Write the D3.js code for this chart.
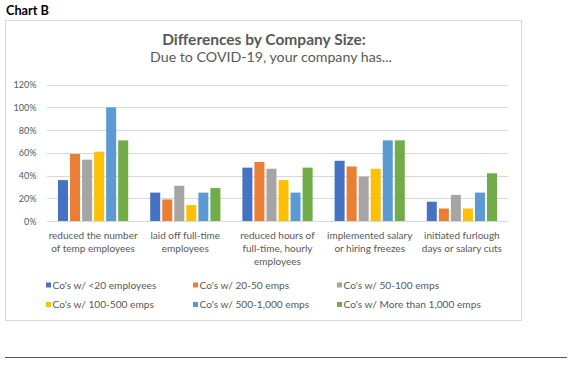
<!DOCTYPE html>
<html><head><meta charset="utf-8">
<script src="https://cdn.jsdelivr.net/npm/d3@7"></script>
<style>body{margin:0;background:#fff}svg{display:block}text{font-family:Lato,"Open Sans",sans-serif}</style>
</head><body>
<svg id="c" width="575" height="366"></svg>
<script>
const categories = [
  ["reduced the number","of temp employees"],
  ["laid off full-time","employees"],
  ["reduced hours of","full-time, hourly","employees"],
  ["implemented salary","or hiring freezes"],
  ["initiated furlough","days or salary cuts"]
];
const seriesNames = ["Co's w/ <20 employees","Co's w/ 20-50 emps","Co's w/ 50-100 emps","Co's w/ 100-500 emps","Co's w/ 500-1,000 emps","Co's w/ More than 1,000 emps"];
const seriesColors = ["#4472C4","#ED7D31","#A5A5A5","#FFC000","#5B9BD5","#70AD47"];
const values = [
  [36,25,47,53,17],
  [59,19,52,48,11],
  [54,31,46,39,23],
  [61,14,36,46,11],
  [100,25,25,71,25],
  [71,29,47,71,42]
];
const yTicks = [0,20,40,60,80,100,120];

const svg = d3.select("#c");
// compute a font size so that a sample string has the target width
function sizeFor(str, target, weight) {
  const t = svg.append("text").attr("font-size",20).attr("font-weight",weight||"normal").text(str);
  const w = t.node().getComputedTextLength(); t.remove();
  return 20*target/w;
}
const fsChart = sizeFor("Chart B",43,"bold");
const fsTitle = sizeFor("Differences by Company Size:",204,"bold");
const fsSub = sizeFor("Due to COVID-19, your company has...",242);
const fsY = sizeFor("120%",23);
const fsCat = sizeFor("reduced the number",89);
const fsLeg = sizeFor("Co's w/ <20 employees",104);

svg.append("text").attr("x",6).attr("y",15).attr("font-size",fsChart).attr("font-weight","bold").attr("fill","#000").text("Chart B");
svg.append("rect").attr("x",5.5).attr("y",20.5).attr("width",516).attr("height",300).attr("fill","#fff").attr("stroke","#d9d9d9");
svg.append("line").attr("x1",5).attr("x2",567).attr("y1",357.5).attr("y2",357.5).attr("stroke","#555").attr("stroke-width",1.2);

svg.append("text").attr("x",264).attr("y",44.5).attr("text-anchor","middle").attr("font-size",fsTitle).attr("font-weight","bold").attr("fill","#595959").text("Differences by Company Size:");
svg.append("text").attr("x",271).attr("y",62).attr("text-anchor","middle").attr("font-size",fsSub).attr("fill","#595959").text("Due to COVID-19, your company has...");

const x0 = d3.scaleBand().domain(d3.range(categories.length)).range([47,508]);
const x1 = d3.scaleBand().domain(d3.range(seriesNames.length)).range([11, x0.bandwidth()-11]).paddingInner(0.17);
const y = d3.scaleLinear().domain([0,120]).range([221,84.7]);

const g = svg.append("g");
g.selectAll("line.grid").data(yTicks).join("line").attr("class","grid")
  .attr("x1",47).attr("x2",508).attr("y1",d=>Math.round(y(d))+0.5).attr("y2",d=>Math.round(y(d))+0.5)
  .attr("stroke","#d9d9d9").attr("stroke-width",1);
g.selectAll("text.yl").data(yTicks).join("text").attr("class","yl")
  .attr("x",36.5).attr("y",d=>y(d)+3.5).attr("text-anchor","end").attr("font-size",fsY).attr("fill","#595959").text(d=>d+"%");

seriesNames.forEach((s,si)=>{
  g.selectAll("rect.s"+si).data(values[si]).join("rect").attr("class","s"+si)
    .attr("x",(d,i)=>x0(i)+x1(si)).attr("width",x1.bandwidth())
    .attr("y",d=>y(d)).attr("height",d=>y(0)-y(d))
    .attr("fill",seriesColors[si]);
});

categories.forEach((lines,i)=>{
  const cx = x0(i)+x0.bandwidth()/2;
  const t = g.append("text").attr("x",cx).attr("text-anchor","middle").attr("font-size",fsCat).attr("fill","#595959");
  lines.forEach((l,k)=>t.append("tspan").attr("x",cx).attr("y",238.5+k*13.4).text(l));
});

const legX = [46,193,337], legY = [285,304.5];
seriesNames.forEach((s,i)=>{
  const lx = legX[i%3], ly = legY[Math.floor(i/3)];
  svg.append("rect").attr("x",lx).attr("y",ly-2.5).attr("width",5).attr("height",5).attr("fill",seriesColors[i]);
  svg.append("text").attr("x",lx+6.5).attr("y",ly+3.5).attr("font-size",fsLeg).attr("fill","#595959").text(s);
});
</script>
</body></html>
